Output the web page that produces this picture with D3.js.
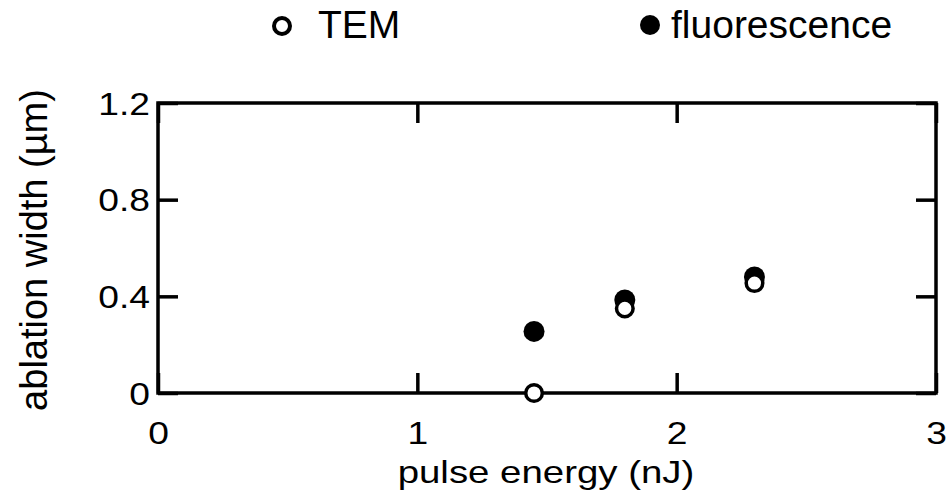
<!DOCTYPE html>
<html>
<head>
<meta charset="utf-8">
<script src="https://cdn.jsdelivr.net/npm/d3@7"></script>
<style>
  body { margin: 0; background: #fff; }
  text { font-family: "Liberation Sans", Arial, sans-serif; fill: #000; }
</style>
</head>
<body>
<svg id="chart" width="950" height="494"></svg>
<script>
(function () {
    // data
    var energy = [1.45, 1.8, 2.3]
    var tem = [0, 0.35, 0.455]
    var fluorescence = [0.255, 0.385, 0.48]
    var xTicks = [0, 1, 2, 3]
    var yTicks = [0, 0.4, 0.8, 1.2]

    var left = 158, top = 103, width = 778, height = 290

    var x = d3.scaleLinear().domain([0, 3]).range([0, width])
    var y = d3.scaleLinear().domain([0, 1.2]).range([height, 0])

    var svg = d3.select("#chart")
    var chart = svg.append("g")
        .attr("transform", `translate(${left}, ${top})`)

    // the original text is a bit wider than Arial, stretch it
    function widen(sel, k) {
        sel.each(function () {
            var len = this.getComputedTextLength()
            d3.select(this).attr("textLength", len * k).attr("lengthAdjust", "spacingAndGlyphs")
        })
    }

    // ticks pointing in, on all four sides
    var tl = 20
    var xAxis = chart.append("g")
        .attr("transform", "translate(0," + height + ")")
        .call(d3.axisBottom(x).tickValues(xTicks).tickSize(-tl).tickFormat(d3.format("d")))
    chart.append("g")
        .call(d3.axisTop(x).tickValues(xTicks).tickSize(-tl).tickFormat(""))
    var yAxis = chart.append("g")
        .call(d3.axisLeft(y).tickValues(yTicks).tickSize(-tl).tickFormat((d) => d === 0 ? "0" : d3.format(".1f")(d)))
    chart.append("g")
        .attr("transform", "translate(" + width + ",0)")
        .call(d3.axisRight(y).tickValues(yTicks).tickSize(-tl).tickFormat(""))

    chart.selectAll(".domain").remove()
    chart.selectAll(".tick line").attr("stroke", "#000").attr("stroke-width", 3.5)
    chart.selectAll(".tick text").style("font-size", "31px").attr("font-family", null)

    xAxis.selectAll(".tick text").attr("y", 50.5).attr("dy", 0)
    yAxis.selectAll(".tick text").attr("x", -8).attr("dy", "0.36em")
    widen(chart.selectAll(".tick text"), 1.2)

    // frame
    chart.append("rect")
        .attr("width", width).attr("height", height)
        .attr("fill", "none").attr("stroke", "#000").attr("stroke-width", 3.5)

    // filled points first, open points on top
    chart.append("g").selectAll("circle")
        .data(energy)
        .join("circle")
        .attr("cx", (d) => x(d))
        .attr("cy", (d, i) => y(fluorescence[i]))
        .attr("r", 10.5)
        .attr("fill", "#000")

    chart.append("g").selectAll("circle")
        .data(energy)
        .join("circle")
        .attr("cx", (d) => x(d))
        .attr("cy", (d, i) => y(tem[i]))
        .attr("r", 8.3)
        .attr("fill", "#fff")
        .attr("stroke", "#000")
        .attr("stroke-width", 3.5)

    // axis titles
    svg.append("text")
        .attr("x", 546).attr("y", 483)
        .attr("text-anchor", "middle")
        .style("font-size", "32px")
        .text("pulse energy (nJ)")
        .call(widen, 1.2)

    svg.append("text")
        .attr("transform", "translate(47,250) rotate(-90)")
        .attr("text-anchor", "middle")
        .style("font-size", "38px")
        .text("ablation width (µm)")

    // legend
    var legend = svg.append("g")
    legend.append("circle")
        .attr("cx", 282).attr("cy", 26).attr("r", 8)
        .attr("fill", "#fff").attr("stroke", "#000").attr("stroke-width", 4)
    legend.append("text")
        .attr("x", 318).attr("y", 38)
        .style("font-size", "39px")
        .text("TEM")
    legend.append("circle")
        .attr("cx", 650).attr("cy", 25).attr("r", 10)
        .attr("fill", "#000")
    legend.append("text")
        .attr("x", 671).attr("y", 38)
        .style("font-size", "39px")
        .text("fluorescence")
})();
</script>
</body>
</html>
